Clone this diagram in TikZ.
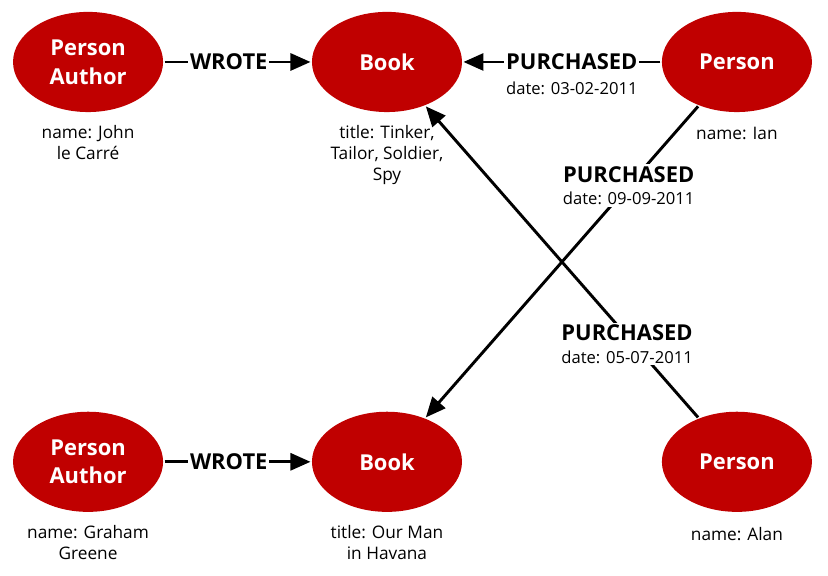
\documentclass[tikz,border=0pt]{standalone}
\usepackage{fontspec}
\setmainfont{Open Sans}
\usetikzlibrary{arrows.meta,positioning,shapes.geometric}
\definecolor{nodered}{RGB}{192,0,0}

\begin{document}
\begin{tikzpicture}[->,>={Triangle[length=0.53cm,width=0.45cm]},line width=2.2pt,on grid,
entity/.style={ellipse,fill=nodered,text=white,minimum width=3.97cm,minimum height=2.65cm,inner sep=0pt,align=center,font=\fontsize{16.5}{21.75}\selectfont\bfseries},
prop/.style={anchor=north,inner sep=0pt,align=center,font=\fontsize{13}{16}\selectfont},
rel/.style={fill=white,inner sep=1.5pt,font=\fontsize{16.5}{20}\selectfont\bfseries},
reldate/.style={fill=white,inner sep=1pt,label distance=4pt,font=\fontsize{12.5}{15}\selectfont},
relpair/.style={fill=white,inner sep=1.5pt,align=center,font=\fontsize{12.5}{17}\selectfont}]

\useasboundingbox (-2.33,1.64) rectangle (19.58,-13.58);

\node[entity] (a1) {Person\\Author};
\node[entity, right=7.91cm of a1] (b1) {Book};
\node[entity, right=9.26cm of b1] (p1) {Person};
\node[entity, below=10.58cm of a1] (a2) {Person\\Author};
\node[entity, below=10.58cm of b1] (b2) {Book};
\node[entity, below=10.58cm of p1] (p2) {Person};

% properties under the nodes
\node[prop] (a1name) at ([yshift=-0.27cm]a1.south) {name: John\\le Carré};
\node[prop] (b1title) at ([yshift=-0.27cm]b1.south) {title: Tinker,\\Tailor, Soldier,\\Spy};
\node[prop] (p1name) at ([yshift=-0.33cm]p1.south) {name: Ian};
\node[prop] (a2name) at ([yshift=-0.27cm]a2.south) {name: Graham\\Greene};
\node[prop] (b2title) at ([yshift=-0.27cm]b2.south) {title: Our Man\\in Havana};
\node[prop] (p2name) at ([yshift=-0.33cm]p2.south) {name: Alan};

\path (a1) edge node[rel,pos=0.44] (w1) {WROTE} (b1)
      (a2) edge node[rel,pos=0.44] (w2) {WROTE} (b2)
      (p1) edge node[rel,pos=0.45,label={[reldate]below:date: 03-02-2011}] (r1) {PURCHASED} (b1)
      (p1) edge node[relpair,pos=0.255] (r2) {{\fontsize{16.5}{20}\selectfont\bfseries PURCHASED}\\date: 09-09-2011} (b2)
      (p2) edge node[relpair,pos=0.236,xshift=-0.18cm] (r3) {{\fontsize{16.5}{20}\selectfont\bfseries PURCHASED}\\date: 05-07-2011} (b1);

\end{tikzpicture}
\end{document}
